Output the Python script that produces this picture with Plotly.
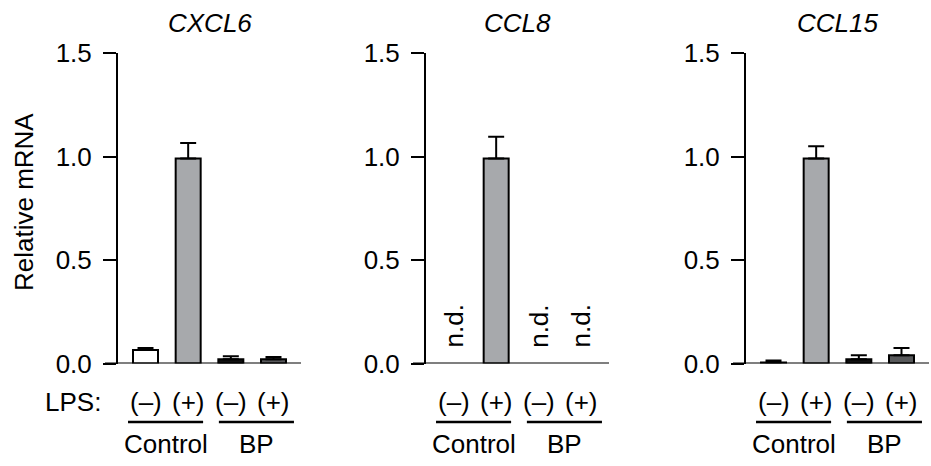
import plotly.graph_objects as go

# ---------------- data ----------------
genes = ["CXCL6", "CCL8", "CCL15"]
lps_labels = ["(–)", "(+)", "(–)", "(+)"]
groups = ["Control", "BP"]
cxcl6_mean = [0.065, 0.99, 0.02, 0.02]
cxcl6_err = [0.010, 0.075, 0.015, 0.012]
ccl8_mean = [None, 0.99, None, None]
ccl8_err = [0.0, 0.105, 0.0, 0.0]
ccl15_mean = [0.005, 0.99, 0.02, 0.04]
ccl15_err = [0.010, 0.060, 0.020, 0.035]
nd_label = "n.d."
y_ticks = [0.0, 0.5, 1.0, 1.5]

means = [cxcl6_mean, ccl8_mean, ccl15_mean]
errs = [cxcl6_err, ccl8_err, ccl15_err]

# ---------------- style ----------------
W, H = 931, 466
FONT = "Liberation Sans, Arial, Helvetica, sans-serif"
FS = 26
bar_colors = ["#ffffff", "#a7a9ac", "#111111", "#58595b"]
axis_px = [118, 426, 746]
panel_w = 183
y_bot_px, y_top_px = 363.5, 53
xr = [-0.645, 3.645]

def px_to_py(p):
    return (H - p) / H

fig = go.Figure()
layout = dict(
    template="none",
    width=W, height=H, margin=dict(l=0, r=0, t=0, b=0, autoexpand=False),
    paper_bgcolor="white", plot_bgcolor="white",
    showlegend=False, font=dict(family=FONT, size=FS, color="black"),
)
annotations = []
shapes = []
xs = list(range(len(lps_labels)))

for k, gene in enumerate(genes):
    sfx = "" if k == 0 else str(k + 1)
    xa, ya = "x" + sfx, "y" + sfx
    fig.add_trace(go.Bar(
        x=xs, y=means[k], xaxis=xa, yaxis=ya, width=0.586,
        marker=dict(color=bar_colors, line=dict(color="black", width=2)),
        error_y=dict(type="data", symmetric=False, array=errs[k],
                     arrayminus=[0] * 4, color="black", thickness=2, width=8),
        cliponaxis=False, hoverinfo="skip",
    ))
    d0 = axis_px[k] / W
    d1 = (axis_px[k] + panel_w) / W
    layout["xaxis" + sfx] = dict(
        domain=[d0, d1], range=xr, anchor=ya, showline=False,
        showgrid=False, zeroline=False, showticklabels=False, ticks="",
        fixedrange=True, automargin=False,
    )
    layout["yaxis" + sfx] = dict(
        domain=[px_to_py(y_bot_px), px_to_py(y_top_px)], range=[0, 1.5],
        anchor=xa, showline=True, linewidth=2, linecolor="black",
        showgrid=False, zeroline=False, ticks="outside", ticklen=13,
        tickwidth=2, tickcolor="black", tickvals=y_ticks,
        tickformat=".1f", ticklabelstandoff=6, automargin=False,
        tickfont=dict(family=FONT, size=FS, color="black"), fixedrange=True,
    )
    # x axis line extending left by tick length
    shapes.append(dict(type="line", xref=xa + " domain", yref=ya,
                       x0=-13 / panel_w, x1=1, y0=0, y1=0,
                       line=dict(color="black", width=2)))
    # gene title
    annotations.append(dict(text="<i>" + gene + "</i>", xref="paper", yref="paper",
                            x=(d0 + d1) / 2, y=px_to_py(23.5), showarrow=False,
                            xanchor="center", yanchor="middle",
                            font=dict(family=FONT, size=FS)))
    # LPS labels
    for i, lab in enumerate(lps_labels):
        annotations.append(dict(text=lab, xref=xa, yref="paper", x=xs[i],
                                y=px_to_py(402), showarrow=False,
                                xanchor="center", yanchor="middle",
                                font=dict(family=FONT, size=FS)))
        if means[k][i] is None:
            annotations.append(dict(text=nd_label, xref=xa, yref=ya, x=xs[i],
                                    y=0, yshift=14, textangle=-90,
                                    showarrow=False, xanchor="center",
                                    yanchor="bottom",
                                    font=dict(family=FONT, size=FS)))
    # group underline and labels
    spans = [(-0.41, 1.35), (1.72, 3.48)]
    for g, (a, b) in zip(groups, spans):
        shapes.append(dict(type="line", xref=xa, yref="paper", x0=a, x1=b,
                           y0=px_to_py(422), y1=px_to_py(422),
                           line=dict(color="black", width=2.3)))
        annotations.append(dict(text=g, xref=xa, yref="paper", x=(a + b) / 2,
                                y=px_to_py(444), showarrow=False,
                                xanchor="center", yanchor="middle",
                                font=dict(family=FONT, size=FS)))

annotations.append(dict(text="LPS:", xref="paper", yref="paper", x=103 / W,
                        y=px_to_py(402), showarrow=False, xanchor="right",
                        yanchor="middle", font=dict(family=FONT, size=FS)))
annotations.append(dict(text="Relative mRNA", xref="paper", yref="paper",
                        x=24 / W, y=px_to_py(202), showarrow=False,
                        textangle=-90, xanchor="center", yanchor="middle",
                        font=dict(family=FONT, size=FS)))

layout["annotations"] = annotations
layout["shapes"] = shapes
fig.update_layout(**layout)
fig.write_html("out.html", config={"displayModeBar": False},
               post_script="document.body.style.margin='0';"
                           "document.body.style.overflow='hidden';")
